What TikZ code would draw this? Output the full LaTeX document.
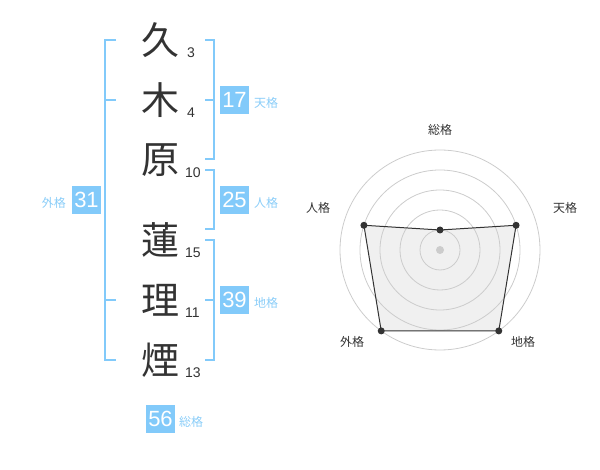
\documentclass[tikz,border=0pt]{standalone}
\usepackage{fontspec}
\usepackage{xcolor}
\setmainfont{Liberation Sans}
\newfontfamily\jpfont{Noto Sans CJK JP}
\usetikzlibrary{calc}
\definecolor{kakuBlue}{HTML}{82CAFA}
\definecolor{kakuText}{HTML}{8ACDF8}
\definecolor{inkGray}{HTML}{333333}
\definecolor{ringGray}{HTML}{CCCCCC}
\newcommand{\Ring}{20}

\begin{document}
\begin{tikzpicture}[x=1pt,y=1pt,
  moji/.style={font=\jpfont\fontsize{38}{38}\selectfont, text=inkGray, inner sep=0pt},
  kakusu/.style={font=\fontsize{14}{14}\selectfont, text=inkGray, inner sep=0pt, anchor=west},
  kakubox/.style={fill=kakuBlue, text=white, minimum width=29pt, minimum height=28pt, inner sep=0pt, font=\fontsize{22}{22}\selectfont},
  kakuname/.style={font=\jpfont\fontsize{12}{12}\selectfont, text=kakuText, inner sep=0pt},
  brace/.style={draw=kakuBlue, line width=2pt},
  ring/.style={draw=ringGray, line width=0.8pt},
  axisname/.style={font=\jpfont\fontsize{12}{12}\selectfont, text=inkGray, inner sep=0pt}]
\useasboundingbox (0,0) rectangle (600,-470);

% name, one character per row
\node[moji] (k1) at (160,-40) {久};
\node[moji] (k2) at (160,-100) {木};
\node[moji] (k3) at (160,-160) {原};
\node[moji] (k4) at (160,-240) {蓮};
\node[moji] (k5) at (160,-300) {理};
\node[moji] (k6) at (160,-360) {煙};

% stroke counts
\node[kakusu] (s1) at (187,-53) {3};
\node[kakusu] (s2) at (187,-113) {4};
\node[kakusu] (s3) at (185,-173) {10};
\node[kakusu] (s4) at (185,-253) {15};
\node[kakusu] (s5) at (185,-313) {11};
\node[kakusu] (s6) at (185,-373) {13};

% left bracket
\coordinate (La) at (116,-40);
\coordinate (Lb) at (105,-40);
\coordinate (Lc) at (105,-360);
\coordinate (Ld) at (116,-360);
\coordinate (Le) at (105,-100);
\coordinate (Lf) at (116,-100);
\coordinate (Lg) at (105,-300);
\coordinate (Lh) at (116,-300);
\draw[brace] (La) -- (Lb) -- (Lc) -- (Ld);
\draw[brace] (Le) -- (Lf);
\draw[brace] (Lg) -- (Lh);

% right brackets
\coordinate (Ta) at (205,-40);
\coordinate (Tb) at (214,-40);
\coordinate (Tc) at (214,-159);
\coordinate (Td) at (205,-159);
\coordinate (Te) at (205,-100);
\coordinate (Tf) at (214,-100);
\draw[brace] (Ta) -- (Tb) -- (Tc) -- (Td);% ten
\draw[brace] (Te) -- (Tf);
\coordinate (Ja) at (205,-170);
\coordinate (Jb) at (214,-170);
\coordinate (Jc) at (214,-229);
\coordinate (Jd) at (205,-229);
\draw[brace] (Ja) -- (Jb) -- (Jc) -- (Jd);% jin
\coordinate (Ca) at (205,-240);
\coordinate (Cb) at (214,-240);
\coordinate (Cc) at (214,-360);
\coordinate (Cd) at (205,-360);
\coordinate (Ce) at (205,-300);
\coordinate (Cf) at (214,-300);
\draw[brace] (Ca) -- (Cb) -- (Cc) -- (Cd);% chi
\draw[brace] (Ce) -- (Cf);

% totals
\node[kakubox] (ten) at (234.5,-100) {17};
\node[kakubox] (jin) at (234.5,-200) {25};
\node[kakubox] (chi) at (234.5,-300) {39};
\node[kakubox] (gai) at (86.5,-200) {31};
\node[kakubox] (sou) at (160.5,-419) {56};
\node[kakuname, anchor=west] (tenname) at (254,-103) {天格};
\node[kakuname, anchor=west] (jinname) at (254,-203) {人格};
\node[kakuname, anchor=west] (chiname) at (254,-303) {地格};
\node[kakuname, anchor=east] (gainame) at (66,-203) {外格};
\node[kakuname, anchor=west] (souname) at (179,-422) {総格};

% radar chart
\coordinate (C) at (440,-250);
\foreach \n/\a/\v in {sou/90/1, ten/18/4, chi/-54/5, gai/234/5, jin/162/4}{
    \coordinate (p\n) at ($(C)+(\a:\v*\Ring)$);
}
\fill[black!6] (psou) -- (pten) -- (pchi) -- (pgai) -- (pjin) -- cycle;
\foreach \r in {1,...,5}{
    \draw[ring] (C) circle (\r*\Ring);
}
\fill[ringGray] (C) circle (4);
\draw[inkGray, line width=1pt, line join=round] (psou) -- (pten) -- (pchi) -- (pgai) -- (pjin) -- cycle;
\foreach \n in {sou, ten, chi, gai, jin}{
    \fill[inkGray] (p\n) circle (3.5);
}
\node[axisname] (asou) at (440,-130) {総格};
\node[axisname] (aten) at (565,-208) {天格};
\node[axisname] (ajin) at (318,-208) {人格};
\node[axisname] (agai) at (352,-342) {外格};
\node[axisname] (achi) at (523,-342) {地格};
\end{tikzpicture}
\end{document}
